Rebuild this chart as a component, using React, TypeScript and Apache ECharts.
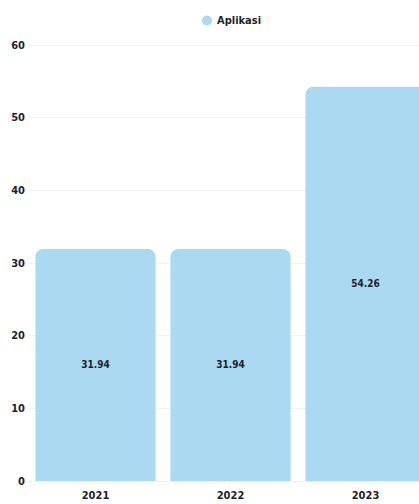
import React, { useEffect, useRef } from "react";
import * as echarts from "echarts";

const categories = ["2021", "2022", "2023"];
const seriesName = "Aplikasi";
const values = [31.94, 31.94, 54.26];
const yTicks = { min: 0, max: 60, interval: 10 };

const FONT = "'DejaVu Sans Condensed', 'Liberation Sans Narrow', sans-serif";
const TEXT = "#1d1f2b";
const BAR = "#aad9f1";

export default function App() {
  const ref = useRef<HTMLDivElement>(null);
  useEffect(() => {
    if (!ref.current) return;
    const chart = echarts.init(ref.current, undefined, { renderer: "svg" });
    chart.setOption({
      animation: false,
      legend: {
        data: [seriesName],
        left: 197,
        top: 10,
        icon: "circle",
        itemWidth: 10,
        itemHeight: 10,
        itemGap: 4,
        textStyle: { fontFamily: FONT, fontWeight: "bold", fontSize: 11, color: TEXT },
      },
      grid: { left: 28, right: 11, top: 45, bottom: 23, containLabel: false },
      xAxis: {
        type: "category",
        data: categories,
        axisLine: { show: true, lineStyle: { color: "#f1f1f1" } },
        axisTick: { show: false },
        axisLabel: { margin: 9, fontFamily: FONT, fontWeight: "bold", fontSize: 11, color: TEXT },
      },
      yAxis: {
        type: "value",
        min: yTicks.min,
        max: yTicks.max,
        interval: yTicks.interval,
        axisLine: { show: false },
        axisTick: { show: false },
        splitLine: { lineStyle: { color: "#f3f3f3" } },
        axisLabel: { margin: 3, fontFamily: FONT, fontWeight: "bold", fontSize: 11, color: TEXT },
      },
      series: [
        {
          name: seriesName,
          type: "bar",
          data: values,
          barCategoryGap: "11%",
          itemStyle: { color: BAR, borderRadius: [8, 8, 0, 0] },
          label: {
            show: true,
            position: "inside",
            fontFamily: FONT,
            fontWeight: "bold",
            fontSize: 10,
            color: TEXT,
          },
        },
      ],
    });
    return () => chart.dispose();
  }, []);
  return (
    <div style={{ position: "fixed", left: 0, top: 0, width: 419, height: 504, overflow: "hidden", background: "#fff" }}>
      <div ref={ref} style={{ width: 444, height: 504 }} />
    </div>
  );
}
